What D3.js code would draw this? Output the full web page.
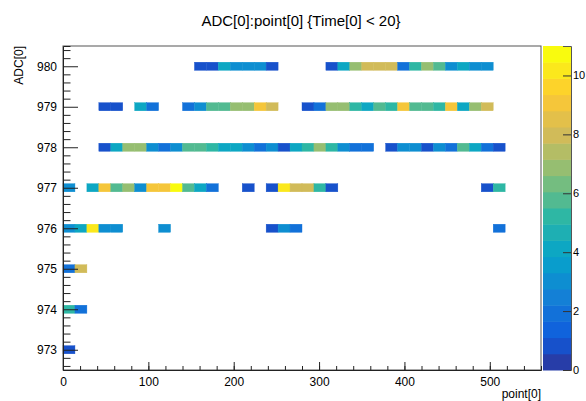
<!DOCTYPE html>
<html><head><meta charset="utf-8">
<script src="https://cdn.jsdelivr.net/npm/d3@7"></script>
<style>
body{margin:0;background:#fff}
svg{display:block}
text{font-family:"Liberation Sans",Arial,Helvetica,sans-serif;fill:#000}
</style>
</head><body>
<svg id="chart" width="586" height="401"></svg>
<script>
// ---- data ----
const chartTitle = "ADC[0]:point[0] {Time[0] < 20}";
const xTitle = "point[0]";
const yTitle = "ADC[0]";
const xTickValues = [0, 100, 200, 300, 400, 500];
const yTickValues = [973, 974, 975, 976, 977, 978, 979, 980];
const zTickValues = [0, 2, 4, 6, 8, 10];
const pointRange = [0, 560];
const adcRange = [972.5, 980.5];
const countRange = [0, 11];
const pointBinWidth = 14;
const adcBinHeight = 0.2;
const adcRows = [980, 979, 978, 977, 976, 975, 974, 973];
// counts per point[0] bin (40 bins of width 14), one array per ADC value
const counts980 = [0,0,0,0,0,0,0,0,0,0, 0,1,1,4,3,3,3,1,0,0, 0,0,1,4,7,8,8,8,2,5, 7,6,3,4,3,3,0,0,0,0];
const counts979 = [0,0,0,1,1,0,4,2,0,0, 2,3,6,6,7,7,9,8,0,0, 1,2,7,7,5,4,6,5,9,6, 6,5,9,4,7,8,0,0,0,0];
const counts978 = [0,0,0,1,4,7,7,3,2,3, 6,6,5,4,4,3,2,3,1,4, 5,7,5,3,2,2,0,1,3,3, 1,3,2,6,4,2,1,0,0,0];
const counts977 = [3,0,4,9,6,7,3,9,9,11, 6,4,2,0,0,1,0,1,10,8, 8,5,1,0,0,0,0,0,0,0, 0,0,0,0,0,1,5,0,0,0];
const counts976 = [3,4,10,3,3,0,0,0,3,0, 0,0,0,0,0,0,0,1,3,2, 0,0,0,0,0,0,0,0,0,0, 0,0,0,0,0,0,2,0,0,0];
const counts975 = [2,8,0,0,0,0,0,0,0,0, 0,0,0,0,0,0,0,0,0,0, 0,0,0,0,0,0,0,0,0,0, 0,0,0,0,0,0,0,0,0,0];
const counts974 = [5,2,0,0,0,0,0,0,0,0, 0,0,0,0,0,0,0,0,0,0, 0,0,0,0,0,0,0,0,0,0, 0,0,0,0,0,0,0,0,0,0];
const counts973 = [1,0,0,0,0,0,0,0,0,0, 0,0,0,0,0,0,0,0,0,0, 0,0,0,0,0,0,0,0,0,0, 0,0,0,0,0,0,0,0,0,0];
const rowCounts = {980: counts980, 979: counts979, 978: counts978, 977: counts977,
                   976: counts976, 975: counts975, 974: counts974, 973: counts973};

// kBird palette stops
const birdStops = [0.0, 0.125, 0.25, 0.375, 0.5, 0.625, 0.75, 0.875, 1.0];
const birdRed   = [0.2082, 0.0592, 0.0780, 0.0232, 0.1802, 0.5301, 0.8186, 0.9956, 0.9764];
const birdGreen = [0.1664, 0.3599, 0.5041, 0.6419, 0.7178, 0.7492, 0.7328, 0.7862, 0.9832];
const birdBlue  = [0.5293, 0.8684, 0.8385, 0.7914, 0.6425, 0.4662, 0.3499, 0.1968, 0.0539];
const nContours = 20;

// ---- layout ----
const frame = {left: 63, right: 541, top: 46, bottom: 370};
const pal = {left: 543, right: 571};

const svg = d3.select("#chart");
const x = d3.scaleLinear().domain(pointRange).range([frame.left, frame.right]);
const y = d3.scaleLinear().domain(adcRange).range([frame.bottom, frame.top]);
const z = d3.scaleLinear().domain(countRange).range([frame.bottom, frame.top]);

const bird = d3.scaleLinear().domain(birdStops)
  .range(birdStops.map((s, i) => d3.rgb(birdRed[i] * 255, birdGreen[i] * 255, birdBlue[i] * 255)))
  .interpolate(d3.interpolateRgb).clamp(true);
const levelColors = d3.range(nContours).map(i => bird(Math.floor((i + 0.99) * 255 / nContours) / 254));
const color = d3.scaleQuantize().domain(countRange).range(levelColors);

// cells
const cells = [];
adcRows.forEach(a => rowCounts[a].forEach((c, k) => { if (c > 0) cells.push({adc: a, bin: k, count: c}); }));

svg.append("g").selectAll("rect").data(cells).join("rect")
  .attr("x", d => x(d.bin * pointBinWidth))
  .attr("width", d => x((d.bin + 1) * pointBinWidth) - x(d.bin * pointBinWidth))
  .attr("y", d => y(d.adc + adcBinHeight / 2))
  .attr("height", d => y(d.adc - adcBinHeight / 2) - y(d.adc + adcBinHeight / 2))
  .attr("fill", d => color(d.count))
  .attr("stroke", d => color(d.count)).attr("stroke-width", 0.4);

// frame
svg.append("rect").attr("x", frame.left).attr("y", frame.top)
  .attr("width", frame.right - frame.left).attr("height", frame.bottom - frame.top)
  .attr("fill", "none").attr("stroke", "#555").attr("stroke-width", 1);

// x axis
const xMinor = d3.range(0, 561, 20);
const gx = svg.append("g").attr("transform", `translate(0,${frame.bottom})`);
gx.call(d3.axisBottom(x).tickValues(xMinor).tickSize(-4).tickFormat(""));
const gx2 = svg.append("g").attr("transform", `translate(0,${frame.bottom})`)
  .call(d3.axisBottom(x).tickValues(xTickValues).tickSize(-8).tickPadding(7).tickFormat(d3.format("d")));
gx2.select(".domain").remove();
gx2.selectAll("text").attr("font-size", 12).attr("font-family", '"Liberation Sans",Arial,sans-serif');
gx.selectAll(".domain").attr("stroke", "#222");

// y axis
const yMinor = d3.range(0, 40).map(i => 972.6 + i * 0.2).filter(v => Math.abs(v - Math.round(v)) > 0.05);
const gy = svg.append("g").attr("transform", `translate(${frame.left},0)`)
  .call(d3.axisLeft(y).tickValues(yMinor).tickSize(-7.5).tickFormat(""));
gy.selectAll(".domain").attr("stroke", "#222");
const gy2 = svg.append("g").attr("transform", `translate(${frame.left},0)`)
  .call(d3.axisLeft(y).tickValues(yTickValues).tickSize(-15).tickPadding(6).tickFormat(d3.format("d")));
gy2.select(".domain").remove();
gy2.selectAll("text").attr("font-size", 12).attr("font-family", '"Liberation Sans",Arial,sans-serif');
svg.selectAll(".tick line").attr("stroke", "#222");

// palette
const levelStep = (countRange[1] - countRange[0]) / nContours;
svg.append("g").selectAll("rect").data(levelColors).join("rect")
  .attr("x", pal.left).attr("width", pal.right - pal.left)
  .attr("y", (c, i) => z(countRange[0] + (i + 1) * levelStep))
  .attr("height", (c, i) => z(countRange[0] + i * levelStep) - z(countRange[0] + (i + 1) * levelStep) + 0.5)
  .attr("fill", c => c);
const gz = svg.append("g").attr("transform", `translate(${pal.right},0)`)
  .call(d3.axisRight(z).tickValues(zTickValues).tickSize(-8).tickPadding(2).tickFormat(d3.format("d")));
gz.select(".domain").attr("stroke", "#555");
gz.selectAll(".tick line").attr("stroke", "#333");
gz.selectAll("text").attr("font-size", 11).attr("font-family", '"Liberation Sans",Arial,sans-serif');

// titles
svg.append("text").attr("x", 301).attr("y", 26).attr("text-anchor", "middle")
  .attr("font-size", 15).text(chartTitle);
svg.append("text").attr("x", frame.right).attr("y", 398).attr("text-anchor", "end")
  .attr("font-size", 12).text(xTitle);
svg.append("text").attr("transform", `translate(23,${frame.top}) rotate(-90)`)
  .attr("text-anchor", "end").attr("font-size", 12).text(yTitle);
</script>
</body></html>
